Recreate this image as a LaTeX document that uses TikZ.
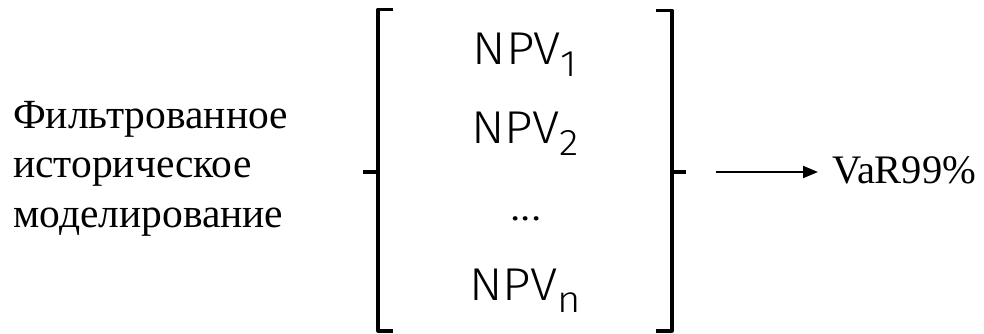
\documentclass[tikz,border=0pt]{standalone}
\usepackage{fontspec}
\setmainfont{Liberation Serif}
\newfontfamily\npvfont{Fira Sans Light}[FakeStretch=1.08]
\usetikzlibrary{arrows.meta}
\tikzset{
  brk/.style={line width=3.2pt, line join=round, line cap=butt},
  npv/.style={font=\npvfont\fontsize{46}{46}\selectfont, inner sep=0pt, anchor=base},
  lbl/.style={font=\fontsize{41.5}{49.5}\selectfont, inner sep=0pt},
  arr/.style={line width=2pt, -{Triangle[length=15pt,width=12pt]}}
}
\newcommand{\sbx}[1]{\raisebox{-12pt}{\fontsize{37}{37}\selectfont #1}}
\begin{document}
\begin{tikzpicture}[x=1pt,y=-1pt]
\useasboundingbox (0,0) rectangle (984,334);
\node[lbl, anchor=base west, align=left] (src) at (13,227)
  {Фильтрованное\\историческое\\моделирование};
\node[npv] (n1) at (525,65) {NPV\sbx{1}};
\node[npv] (n2) at (525,143) {NPV\sbx{2}};
\node[npv] (nd) at (526,220) {...};
\node[npv] (nn) at (525,300) {NPV\sbx{n}};
\draw[brk] (393,9.5) -- (378,9.5) -- (378,331) -- (393,331);
\draw[brk] (378,172) -- (363,172);
\draw[brk] (656,10.5) -- (672,10.5) -- (672,331) -- (656,331);
\draw[brk] (672,172) -- (686,172);
\coordinate (a) at (716,172);
\node[lbl, anchor=base west, font=\fontsize{40.5}{49.5}\selectfont] (var) at (832,183) {VaR99\%};
\draw[arr] (a) -- ([xshift=-14pt]var.west |- a);
\end{tikzpicture}
\end{document}
